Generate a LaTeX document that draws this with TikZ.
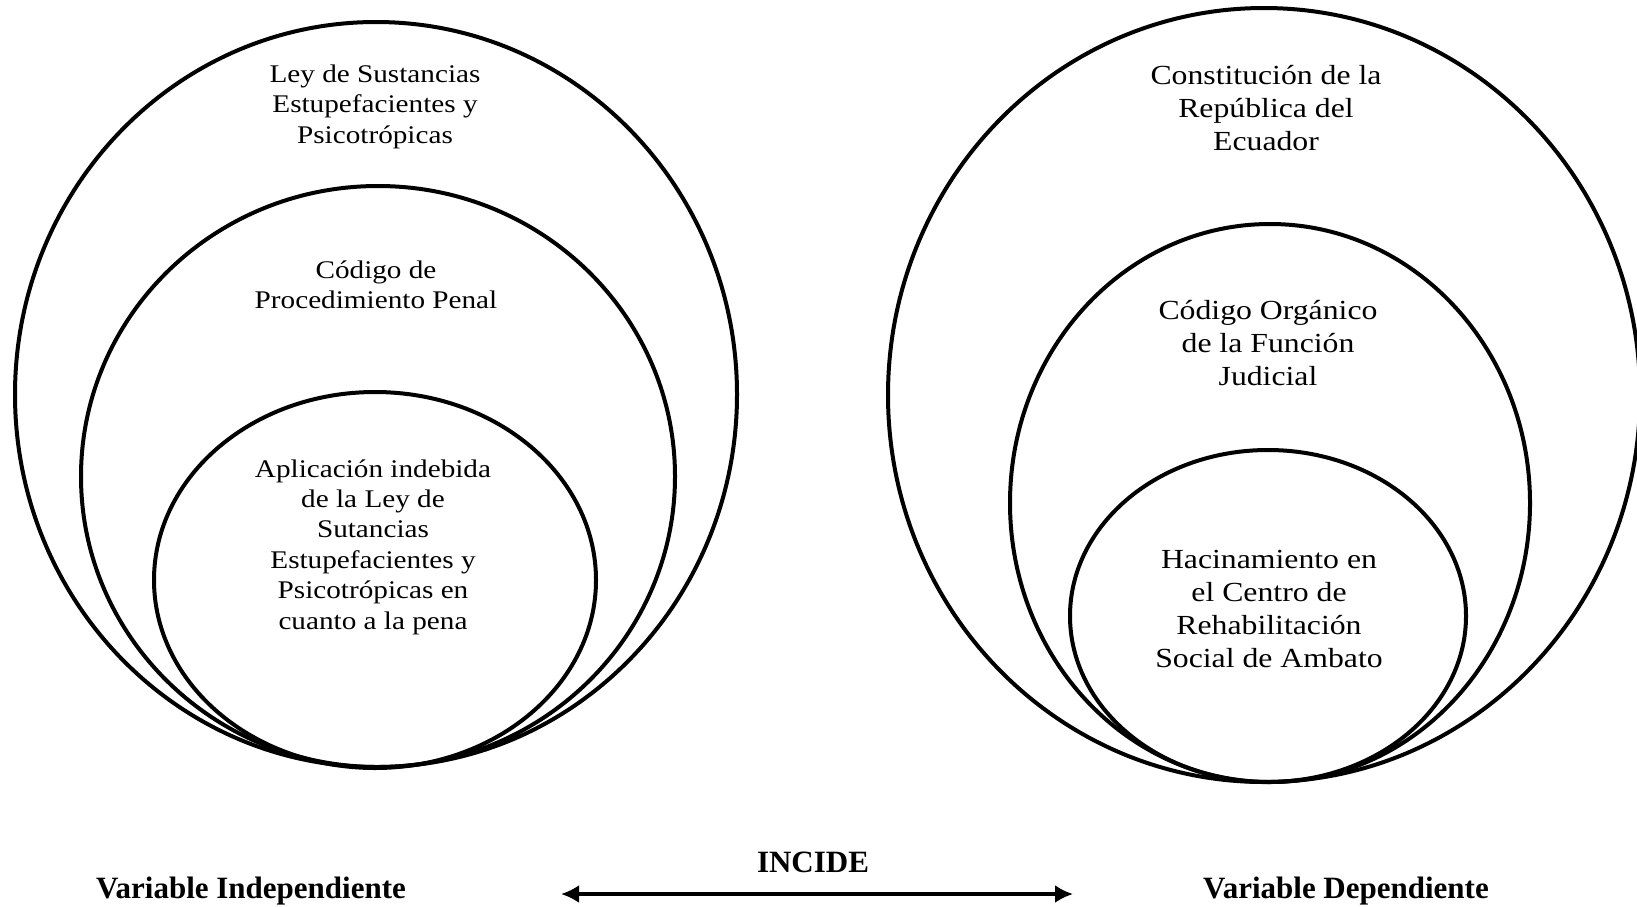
\documentclass[tikz,border=0pt]{standalone}
\usepackage{fontspec}
\setmainfont{Liberation Serif}
\newfontfamily\wideserif[FakeStretch=1.15]{Liberation Serif}
\usetikzlibrary{arrows.meta,shapes,positioning}
\tikzset{
  ring/.style={
    draw,
    shape=ellipse,
    line width=2pt,
    inner sep=0pt
  },
  small text/.style={
    align=center,
    font=\wideserif\fontsize{12.7}{15.2}\selectfont
  },
  big text/.style={
    align=center,
    font=\wideserif\fontsize{13.8}{16.5}\selectfont
  },
  var label/.style={
    font=\bfseries\fontsize{15.5}{18}\selectfont
  }
}

\begin{document}
\begin{tikzpicture} [x=0.5pt, y=-0.5pt, >={Latex[length=9pt,width=9pt]}, semithick]
   \useasboundingbox (0,0) rectangle (1637,906);

   % variable independiente
   \node[ring, minimum width=361pt, minimum height=372.5pt] (l1) at (376,394.5) {};
   \node[ring, minimum width=297pt, minimum height=290.5pt] (l2) at (378,476.5) {};
   \node[ring, minimum width=221pt, minimum height=188pt]   (l3) at (375,580) {};
   \node[small text] (lt1) at (375,106.5) {Ley de Sustancias\\Estupefacientes y\\Psicotrópicas};
   \node[small text] (lt2) at (376,284.5) {Código de\\Procedimiento Penal};
   \node[small text] (lt3) at (373,547) {Aplicación indebida\\de la Ley de\\Sutancias\\Estupefacientes y\\Psicotrópicas en\\cuanto a la pena};

   % variable dependiente
   \node[ring, minimum width=376pt, minimum height=387pt] (r1) at (1264,395) {};
   \node[ring, minimum width=260pt, minimum height=279pt] (r2) at (1270,503) {};
   \node[ring, minimum width=198pt, minimum height=166pt] (r3) at (1268,616) {};
   \node[big text] (rt1) at (1266,108) {Constitución de la\\República del\\Ecuador};
   \node[big text] (rt2) at (1268,343) {Código Orgánico\\de la Función\\Judicial};
   \node[big text] (rt3) at (1269,609) {Hacinamiento en\\el Centro de\\Rehabilitación\\Social de Ambato};

   % etiquetas
   \node[var label] (vind) at (251,891) {Variable Independiente};
   \node[var label] (vdep) at (1346,891) {Variable Dependiente};
   \node[var label] (incide) at (813,862) {INCIDE};
   \coordinate (al) at (561,894);
   \coordinate (ar) at (1073,894);
   \draw[<->, line width=1.6pt] (al) -- (ar);
\end{tikzpicture}
\end{document}
